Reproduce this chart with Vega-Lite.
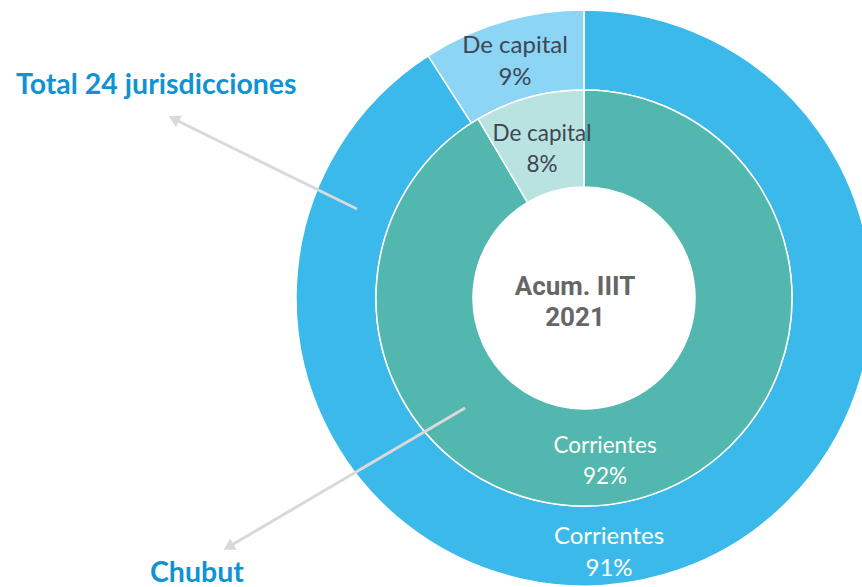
{
  "$schema": "https://vega.github.io/schema/vega-lite/v6.json",
  "width": 862,
  "height": 587,
  "padding": 0,
  "autosize": {"type": "none"},
  "background": "white",
  "config": {"view": {"stroke": null}},
  "datasets": {
    "rings": [
      {"anillo": "Total 24 jurisdicciones", "tipo": "Corrientes", "pct": 90.9, "serie": "total-Corrientes"},
      {"anillo": "Total 24 jurisdicciones", "tipo": "De capital", "pct": 9.1, "serie": "total-De capital"},
      {"anillo": "Chubut", "tipo": "Corrientes", "pct": 91.5, "serie": "chubut-Corrientes"},
      {"anillo": "Chubut", "tipo": "De capital", "pct": 8.5, "serie": "chubut-De capital"}
    ],
    "outerLabels": [
      {"txt": "De capital\n9%", "x": 515, "y": 46, "tono": "oscuro"},
      {"txt": "Corrientes\n91%", "x": 609, "y": 537, "tono": "claro"}
    ],
    "innerLabels": [
      {"txt": "De capital\n8%", "x": 542, "y": 134, "tono": "oscuro"},
      {"txt": "Corrientes\n92%", "x": 605, "y": 446, "tono": "claro"}
    ],
    "center": [
      {"txt": "Acum. IIIT\n2021", "x": 575, "y": 287}
    ],
    "titles": [
      {"txt": "Total 24 jurisdicciones", "x": 16, "y": 85},
      {"txt": "Chubut", "x": 150, "y": 573}
    ],
    "arrows": [
      {"x": 357, "y": 209, "x2": 176, "y2": 120, "hx": 175.5, "hy": 119.7, "ang": 296.4},
      {"x": 465, "y": 408, "x2": 230, "y2": 546, "hx": 230.2, "hy": 546, "ang": 239.4}
    ]
  },
  "layer": [
    {
      "data": {"name": "rings"},
      "transform": [{"filter": "datum.anillo == 'Total 24 jurisdicciones'"}],
      "mark": {"type": "arc", "radius": 288, "radius2": 208, "stroke": "white", "strokeWidth": 1.5},
      "encoding": {
        "theta": {"field": "pct", "type": "quantitative", "stack": true},
        "order": {"field": "tipo", "sort": "ascending"},
        "color": {
          "field": "serie", "type": "nominal", "legend": null,
          "scale": {
            "domain": ["total-Corrientes", "total-De capital", "chubut-Corrientes", "chubut-De capital"],
            "range": ["#3BB9EB", "#8DD5F5", "#52B7AF", "#B9E3E0"]
          }
        },
        "x": {"datum": 584, "type": "quantitative", "scale": {"domain": [0, 862], "nice": false, "zero": false}, "axis": null},
        "y": {"datum": 298, "type": "quantitative", "scale": {"domain": [0, 587], "nice": false, "zero": false, "reverse": true}, "axis": null}
      }
    },
    {
      "data": {"name": "rings"},
      "transform": [{"filter": "datum.anillo == 'Chubut'"}],
      "mark": {"type": "arc", "radius": 208, "radius2": 111, "stroke": "white", "strokeWidth": 1.5},
      "encoding": {
        "theta": {"field": "pct", "type": "quantitative", "stack": true},
        "order": {"field": "tipo", "sort": "ascending"},
        "color": {"field": "serie", "type": "nominal", "legend": null},
        "x": {"datum": 584, "type": "quantitative"},
        "y": {"datum": 298, "type": "quantitative"}
      }
    },
    {
      "data": {"name": "arrows"},
      "mark": {"type": "rule", "color": "#D9D9D9", "strokeWidth": 3},
      "encoding": {
        "x": {"field": "x", "type": "quantitative"},
        "y": {"field": "y", "type": "quantitative"},
        "x2": {"field": "x2"},
        "y2": {"field": "y2"}
      }
    },
    {
      "data": {"name": "arrows"},
      "mark": {"type": "point", "shape": "triangle", "filled": true, "color": "#D9D9D9", "opacity": 1, "size": 170},
      "encoding": {
        "x": {"field": "hx", "type": "quantitative"},
        "y": {"field": "hy", "type": "quantitative"},
        "angle": {"field": "ang", "type": "quantitative", "scale": null}
      }
    },
    {
      "data": {"name": "outerLabels"},
      "mark": {"type": "text", "font": "Lato", "fontSize": 24, "lineBreak": "\n", "lineHeight": 32, "align": "center", "baseline": "middle"},
      "encoding": {
        "x": {"field": "x", "type": "quantitative"},
        "y": {"field": "y", "type": "quantitative"},
        "text": {"field": "txt"},
        "fill": {"field": "tono", "type": "nominal", "legend": null, "scale": {"domain": ["oscuro", "claro"], "range": ["#404653", "#FFFFF5"]}}
      }
    },
    {
      "data": {"name": "innerLabels"},
      "mark": {"type": "text", "font": "Lato", "fontSize": 22.5, "lineBreak": "\n", "lineHeight": 30.5, "align": "center", "baseline": "middle"},
      "encoding": {
        "x": {"field": "x", "type": "quantitative"},
        "y": {"field": "y", "type": "quantitative"},
        "text": {"field": "txt"},
        "fill": {"field": "tono", "type": "nominal", "legend": null}
      }
    },
    {
      "data": {"name": "center"},
      "mark": {"type": "text", "font": "Roboto", "fontWeight": "bold", "fontSize": 26, "color": "#666666", "lineBreak": "\n", "lineHeight": 31, "align": "center", "baseline": "middle"},
      "encoding": {
        "x": {"field": "x", "type": "quantitative"},
        "y": {"field": "y", "type": "quantitative"},
        "text": {"field": "txt"}
      }
    },
    {
      "data": {"name": "titles"},
      "mark": {"type": "text", "font": "Lato", "fontWeight": "bold", "fontSize": 28.5, "color": "#0F93D3", "align": "left", "baseline": "middle"},
      "encoding": {
        "x": {"field": "x", "type": "quantitative"},
        "y": {"field": "y", "type": "quantitative"},
        "text": {"field": "txt"}
      }
    }
  ]
}
